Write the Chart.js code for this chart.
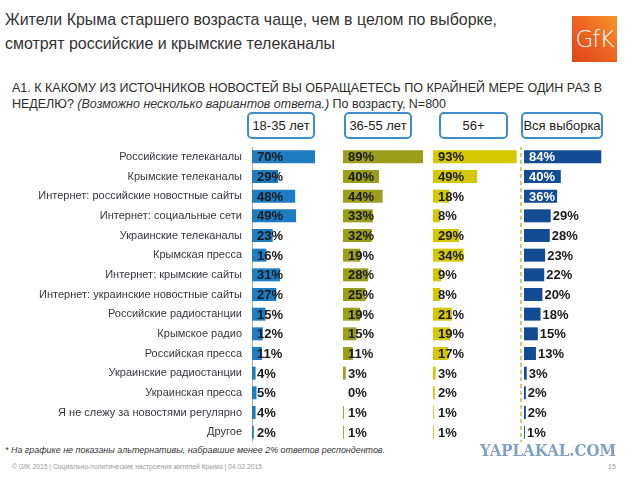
<!DOCTYPE html>
<html><head><meta charset="utf-8">
<script src="https://cdn.jsdelivr.net/npm/chart.js@4.4.0/dist/chart.umd.min.js"></script>
<style>
html,body{margin:0;padding:0;background:#fff;}
body{width:640px;height:480px;position:relative;overflow:hidden;font-family:"Liberation Sans",Arial,sans-serif;color:#333;}
.abs{position:absolute;white-space:nowrap;transform-origin:0 50%;}
#t1,#t2{left:5px;font-size:17px;color:#333;}
#t1{top:10px;} #t2{top:34px;}
#q1,#q2{left:12px;font-size:12.5px;color:#2b2b2b;}
#q1{top:81px;} #q2{top:97px;}
#q2 i{color:#333;}
.hdr{position:absolute;top:112px;height:27px;box-sizing:border-box;border:2px solid #3a8fc9;border-radius:5px;font-size:13px;line-height:23px;text-align:center;color:#222;background:#fff;}
#logo{position:absolute;left:572px;top:16px;width:45px;height:46px;background:linear-gradient(to top right,#e0441b 0%,#ec6420 50%,#f6962a 100%);color:#fff;font-size:23px;line-height:46px;text-align:center;font-family:"DejaVu Sans","Liberation Sans",sans-serif;font-weight:300;letter-spacing:-1px;}
#foot{left:5px;top:445px;font-size:9px;font-style:italic;color:#333;}
#copy{left:12px;top:463px;font-size:7px;color:#999;}
#page{left:608px;top:463px;font-size:7px;color:#999;}
#wm{left:480px;top:441px;font-size:16px;font-weight:bold;color:#7f9fc6;font-family:"DejaVu Serif","Liberation Serif",serif;}
canvas{position:absolute;}
</style></head><body>
<div id="t1" class="abs" data-w="492">Жители Крыма старшего возраста чаще, чем в целом по выборке,</div>
<div id="t2" class="abs" data-w="330">смотрят российские и крымские телеканалы</div>
<div id="logo">GfK</div>
<div id="q1" class="abs" data-w="590">А1. К КАКОМУ ИЗ ИСТОЧНИКОВ НОВОСТЕЙ ВЫ ОБРАЩАЕТЕСЬ ПО КРАЙНЕЙ МЕРЕ ОДИН РАЗ В</div>
<div id="q2" class="abs" data-w="434">НЕДЕЛЮ? <i>(Возможно несколько вариантов ответа.)</i> По возрасту, N=800</div>
<div id="h1" class="hdr" style="left:247px;width:68px;"></div>
<div id="h2" class="hdr" style="left:344px;width:68px;"></div>
<div id="h3" class="hdr" style="left:439px;width:69px;"></div>
<div id="h4" class="hdr" style="left:521px;width:82px;"></div>
<canvas id="c1" width="342" height="295" style="left:0;top:147px;"></canvas>
<canvas id="c2" width="130" height="295" style="left:343px;top:147px;"></canvas>
<canvas id="c3" width="130" height="295" style="left:433px;top:147px;"></canvas>
<canvas id="c4" width="126" height="295" style="left:514px;top:147px;"></canvas>
<div id="foot" class="abs" data-w="380">* На графике не показаны альтернативы, набравшие менее 2% ответов респондентов.</div>
<div id="wm" class="abs" data-w="136">YAPLAKAL.COM</div>
<div id="copy" class="abs" data-w="250">© GfK 2015 | Социально-политические настроения жителей Крыма | 04.02.2015</div>
<div id="page" class="abs">15</div>
<script>
const categories = ["Российские телеканалы","Крымские телеканалы","Интернет: российские новостные сайты","Интернет: социальные сети","Украинские телеканалы","Крымская пресса","Интернет: крымские сайты","Интернет: украинские новостные сайты","Российские радиостанции","Крымское радио","Российская пресса","Украинские радиостанции","Украинская пресса","Я не слежу за новостями регулярно","Другое"];
const groupLabels = ["18-35 лет","36-55 лет","56+","Вся выборка"];
const age18_35 = [70,29,48,49,23,16,31,27,15,12,11,4,5,4,2];
const age36_55 = [89,40,44,33,32,19,28,25,19,15,11,3,0,1,1];
const age56plus = [93,49,18,8,29,34,9,8,21,19,17,3,2,1,1];
const total = [84,40,36,29,28,23,22,20,18,15,13,3,2,2,1];

groupLabels.forEach((g,i)=>{document.getElementById('h'+(i+1)).textContent=g;});

document.querySelectorAll('[data-w]').forEach(el=>{
  const w = el.getBoundingClientRect().width;
  const target = +el.dataset.w;
  el.style.transform = 'scaleX(' + (target/w) + ')';
});

const FONT = '"Liberation Sans", Arial, sans-serif';

const valueLabels = {
  id:'valueLabels',
  afterDatasetsDraw(chart, args, o){
    const ctx = chart.ctx, meta = chart.getDatasetMeta(0), ds = chart.data.datasets[0];
    const base = chart.scales.x.getPixelForValue(0);
    ctx.save();
    ctx.font = 'bold 13px ' + FONT;
    ctx.textBaseline = 'middle';
    ctx.textAlign = 'left';
    meta.data.forEach((bar,i)=>{
      const v = ds.data[i];
      let x = base + 5, color = '#1a1a1a';
      if (o.mode === 'total') {
        if (v >= 30) { color = '#ffffff'; } else { x = bar.x + 2; }
      }
      ctx.fillStyle = color;
      ctx.fillText(v + '%', x, bar.y + 1);
    });
    ctx.restore();
  }
};

const dashedLine = {
  id:'dashedLine',
  beforeDatasetsDraw(chart){
    const {ctx, chartArea} = chart;
    ctx.save();
    ctx.strokeStyle = '#b9bf45';
    ctx.lineWidth = 1.5;
    ctx.setLineDash([4,3]);
    ctx.beginPath();
    ctx.moveTo(chartArea.left - 3, chartArea.top - 1);
    ctx.lineTo(chartArea.left - 3, chartArea.bottom);
    ctx.stroke();
    ctx.restore();
  }
};

function makeChart(id, values, color, opts){
  const showY = !!opts.showY;
  return new Chart(document.getElementById(id), {
    type:'bar',
    data:{labels:categories, datasets:[{data:values, backgroundColor:color, borderWidth:0, barPercentage:0.66, categoryPercentage:1}]},
    plugins: opts.plugins,
    options:{
      indexAxis:'y', responsive:false, animation:false,
      layout:{padding:opts.padding},
      plugins:{legend:{display:false}, tooltip:{enabled:false}, valueLabels:{mode:opts.mode}},
      scales:{
        x:{display:false, min:0, max:100},
        y:{
          display:showY,
          grid:{display:false, drawTicks:false},
          border:{display:showY, color:'#b0b0b0', width:1},
          ticks:{padding:10, color:'#3a3340', font:{size:11, family:FONT}},
          afterFit(scale){ if(showY){ scale.width = 252; } scale.paddingTop = 0; scale.paddingBottom = 0; }
        }
      }
    }
  });
}

makeChart('c1', age18_35, '#1c7dc3', {showY:true, padding:{right:0}, plugins:[valueLabels], mode:'age'});
makeChart('c2', age36_55, '#9b9e1b', {padding:{right:40}, plugins:[valueLabels], mode:'age'});
makeChart('c3', age56plus, '#d6c800', {padding:{right:40}, plugins:[valueLabels], mode:'age'});
makeChart('c4', total, '#134b94', {padding:{left:10, right:24}, plugins:[dashedLine, valueLabels], mode:'total'});
</script>
</body></html>
